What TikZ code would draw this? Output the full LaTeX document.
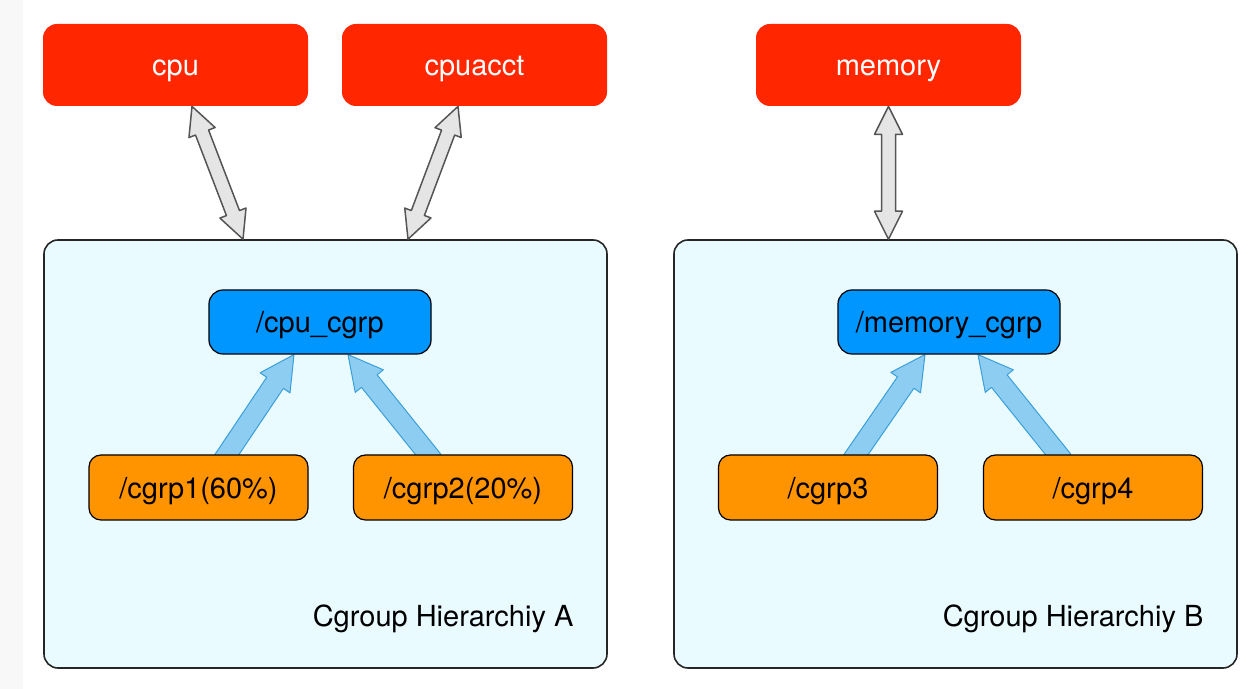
\documentclass[tikz,border=0pt]{standalone}
\usepackage{fontspec}
\setmainfont{TeX Gyre Heros}
\usepackage{xcolor}
\usetikzlibrary{positioning,calc,backgrounds}

\definecolor{boxred}{HTML}{FF2600}
\definecolor{cgblue}{HTML}{0096FF}
\definecolor{cgorange}{HTML}{FF9300}
\definecolor{hierfill}{HTML}{E9FBFF}
\definecolor{hieredge}{HTML}{262626}
\definecolor{arrowgray}{HTML}{E5E5E5}
\definecolor{arrowedge}{HTML}{555555}
\definecolor{uparrow}{HTML}{8ECDF2}
\definecolor{uparrowedge}{HTML}{3A9FD9}
\definecolor{leftstrip}{HTML}{F8F8F8}

% fat arrow with a head at both ends
\newcommand{\twowayarrow}[2]{%
  \draw[twoway] (#1) -- ($(#1)!14pt!(#2)!7pt!90:(#2)$) -- ($(#1)!14pt!(#2)!3.5pt!90:(#2)$)
    -- ($(#2)!14pt!(#1)!3.5pt!-90:(#1)$) -- ($(#2)!14pt!(#1)!7pt!-90:(#1)$) -- (#2)
    -- ($(#2)!14pt!(#1)!7pt!90:(#1)$) -- ($(#2)!14pt!(#1)!3.5pt!90:(#1)$)
    -- ($(#1)!14pt!(#2)!3.5pt!-90:(#2)$) -- ($(#1)!14pt!(#2)!7pt!-90:(#2)$) -- cycle;}
% fat arrow from child to parent
\newcommand{\parentarrow}[2]{%
  \draw[toparent] ($(#1)!5pt!90:(#2)$) -- ($(#2)!17pt!(#1)!5pt!-90:(#1)$)
    -- ($(#2)!17pt!(#1)!9pt!-90:(#1)$) -- (#2) -- ($(#2)!17pt!(#1)!9pt!90:(#1)$)
    -- ($(#2)!17pt!(#1)!5pt!90:(#1)$) -- ($(#1)!5pt!-90:(#2)$) -- cycle;}

\begin{document}
\begin{tikzpicture}[x=0.5pt, y=-0.5pt, font=\fontsize{14.5}{17}\selectfont,
  every node/.style={text height=13.8pt, text depth=3pt},
  subsys/.style={fill=boxred, text=white, rounded corners=7pt, minimum width=132.5pt, minimum height=41pt},
  hier/.style={draw=hieredge, line width=0.8pt, fill=hierfill, rounded corners=7pt, minimum width=281.5pt, minimum height=214pt},
  rootcg/.style={draw, line width=0.6pt, fill=cgblue, rounded corners=7pt, minimum width=111pt, minimum height=32pt},
  childcg/.style={draw, line width=0.6pt, fill=cgorange, rounded corners=6pt, minimum width=109.5pt, minimum height=32.5pt},
  hlabel/.style={inner sep=0pt},
  twoway/.style={draw=arrowedge, line width=0.75pt, fill=arrowgray, line join=round},
  toparent/.style={draw=uparrowedge, line width=0.5pt, fill=uparrow, line join=round}]
	\useasboundingbox (0,0) rectangle (1250,689);
	\fill[leftstrip] (0,0) rectangle (23,689);
	\begin{scope}[on background layer]
		\node[hier] (hierA) at (325.5,454) {};
		\node[hier] (hierB) at (955.5,454) {};
	\end{scope}
	% subsystems
	\node[subsys] (cpu) at (175.5,65) {cpu};
	\node[subsys] (cpuacct) at (474.5,65) {cpuacct};
	\node[subsys] (memory) at (888.5,65) {memory};
	% cgroups
	\node[rootcg] (cpucg) at (320,322) {/cpu\_cgrp};
	\node[rootcg] (memcg) at (949,322) {/memory\_cgrp};
	\node[childcg] (cgrp1) at (198.5,487.5) {/cgrp1(60\%)};
	\node[childcg] (cgrp2) at (463,487.5) {/cgrp2(20\%)};
	\node[childcg] (cgrp3) at (828,487.5) {/cgrp3};
	\node[childcg] (cgrp4) at (1093,487.5) {/cgrp4};
	\node[hlabel, above left=18pt and 17pt of hierA.south east] {Cgroup Hierarchiy A};
	\node[hlabel, above left=18pt and 17pt of hierB.south east] {Cgroup Hierarchiy B};
	% arrow ends
	\coordinate (cpuup) at ($(cpu.south)+(16.5,0)$);
	\coordinate (cpudown) at ($(hierA.north)+(-82.5,0)$);
	\coordinate (acctup) at ($(cpuacct.south)+(-16.5,0)$);
	\coordinate (acctdown) at ($(hierA.north)+(82.5,0)$);
	\coordinate (memup) at (memory.south);
	\coordinate (memdown) at ($(hierB.north)+(-67,0)$);
	\coordinate (tailone) at ($(cgrp1.north)+(24.5,6)$);
	\coordinate (tipone) at ($(cpucg.south)+(-26,0)$);
	\coordinate (tailtwo) at ($(cgrp2.north)+(-30,6)$);
	\coordinate (tiptwo) at ($(cpucg.south)+(28,0)$);
	\coordinate (tailthree) at ($(cgrp3.north)+(24,6)$);
	\coordinate (tipthree) at ($(memcg.south)+(-24,0)$);
	\coordinate (tailfour) at ($(cgrp4.north)+(-30,6)$);
	\coordinate (tipfour) at ($(memcg.south)+(29,0)$);
	\begin{scope}[on background layer]
		\twowayarrow{cpuup}{cpudown}
		\twowayarrow{acctup}{acctdown}
		\twowayarrow{memup}{memdown}
		\parentarrow{tailone}{tipone}
		\parentarrow{tailtwo}{tiptwo}
		\parentarrow{tailthree}{tipthree}
		\parentarrow{tailfour}{tipfour}
	\end{scope}
\end{tikzpicture}
\end{document}
